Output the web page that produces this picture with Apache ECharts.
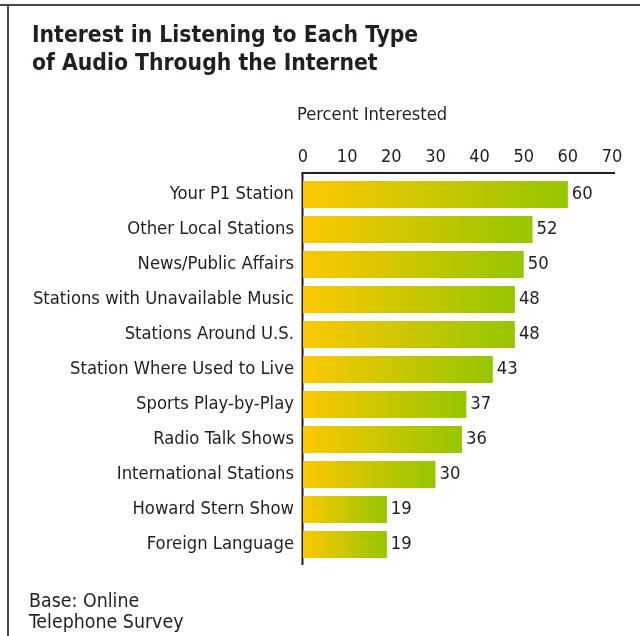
<!DOCTYPE html>
<html>
<head>
<meta charset="utf-8">
<title>Interest in Listening to Each Type of Audio Through the Internet</title>
<script src="https://cdn.jsdelivr.net/npm/echarts@6/dist/echarts.min.js"></script>
<style>
  html, body { margin: 0; padding: 0; background: #ffffff; }
  #chart { width: 640px; height: 636px; }
</style>
</head>
<body>
<div id="chart"></div>
<script>
// Audio types, listed top to bottom
const categories = [
  'Your P1 Station',
  'Other Local Stations',
  'News/Public Affairs',
  'Stations with Unavailable Music',
  'Stations Around U.S.',
  'Station Where Used to Live',
  'Sports Play-by-Play',
  'Radio Talk Shows',
  'International Stations',
  'Howard Stern Show',
  'Foreign Language'
];

// Percent interested in each type
const percentInterested = [60, 52, 50, 48, 48, 43, 37, 36, 30, 19, 19];

// Value axis range and step
const axisMin = 0;
const axisMax = 70;
const axisStep = 10;

const titleLines = ['Interest in Listening to Each Type', 'of Audio Through the Internet'];
const axisName = 'Percent Interested';
const footnoteLines = ['Base: Online', 'Telephone Survey'];

// Layout
const W = 640, H = 636;
const grid = { left: 303, right: 28, top: 177, bottom: 74 };
const ink = '#231f20';
const labelFont = '"DejaVu Sans Condensed", "Liberation Sans", sans-serif';
const titleFont = '"DejaVu Sans Condensed", "Liberation Sans", sans-serif';

const chart = echarts.init(document.getElementById('chart'), null, { renderer: 'canvas' });

const barFill = new echarts.graphic.LinearGradient(0, 0, 1, 0, [
  { offset: 0, color: '#fdc800' },
  { offset: 1, color: '#95c600' }
]);

const axisX = grid.left - 0.5;
const axisTopY = grid.top - 4;

chart.setOption({
  backgroundColor: '#ffffff',
  animation: false,
  grid: Object.assign({ outerBoundsMode: 'none', containLabel: false }, grid),
  xAxis: {
    type: 'value',
    position: 'top',
    min: axisMin,
    max: axisMax,
    interval: axisStep,
    offset: 4,
    axisLine: { show: false },
    axisTick: { show: false },
    splitLine: { show: false },
    axisLabel: {
      margin: 7,
      color: ink,
      fontFamily: labelFont,
      fontSize: 18
    }
  },
  yAxis: {
    type: 'category',
    data: categories,
    inverse: true,
    axisLine: { show: false },
    axisTick: { show: false },
    axisLabel: {
      margin: 9,
      color: ink,
      fontFamily: labelFont,
      fontSize: 18.3
    }
  },
  series: [{
    type: 'bar',
    data: percentInterested,
    barWidth: 27,
    itemStyle: { color: barFill },
    label: {
      show: true,
      position: 'right',
      distance: 4,
      color: ink,
      fontFamily: labelFont,
      fontSize: 18.3
    }
  }],
  graphic: [
    // frame: top rule and left rule
    { type: 'line', shape: { x1: 0, y1: 5, x2: W, y2: 5 }, style: { stroke: '#4a4a4a', lineWidth: 2 } },
    { type: 'line', shape: { x1: 8, y1: 5, x2: 8, y2: H }, style: { stroke: '#4a4a4a', lineWidth: 2 } },
    // axis rules
    { type: 'line', shape: { x1: axisX - 1, y1: axisTopY, x2: W - grid.right + 3, y2: axisTopY }, style: { stroke: ink, lineWidth: 2 } },
    { type: 'line', shape: { x1: axisX, y1: axisTopY, x2: axisX, y2: H - grid.bottom + 3 }, style: { stroke: ink, lineWidth: 2 } },
    // title
    {
      type: 'text', left: 32, top: 22,
      style: {
        text: titleLines.join('\n'),
        fill: ink,
        font: 'bold 22.7px ' + titleFont,
        lineHeight: 28
      }
    },
    // value axis name
    {
      type: 'text', left: 297, top: 106,
      style: { text: axisName, fill: ink, font: '18.2px ' + labelFont }
    },
    // footnote
    {
      type: 'text', left: 29, top: 591,
      style: {
        text: footnoteLines.join('\n'),
        fill: ink,
        font: '19.4px ' + labelFont,
        lineHeight: 21
      }
    }
  ]
});
</script>
</body>
</html>
